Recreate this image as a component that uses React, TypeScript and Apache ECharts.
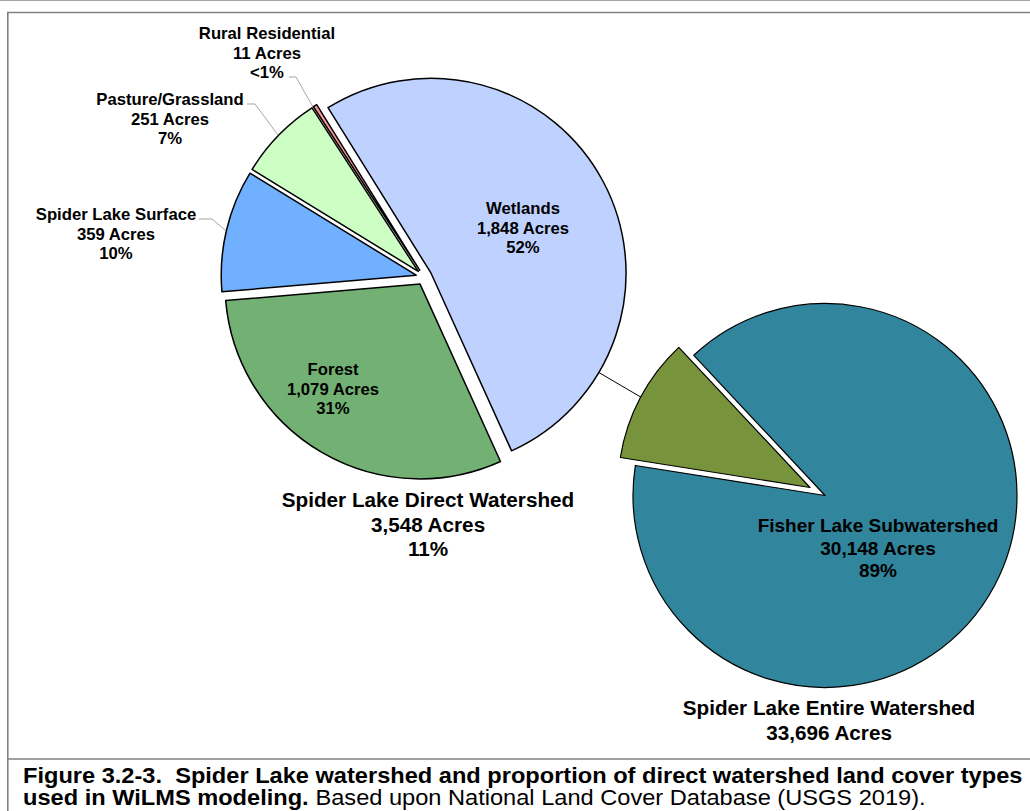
import React, { useEffect, useRef } from "react";
import * as echarts from "echarts";

// ---------- data ----------
const directCategories = ["Wetlands", "Forest", "Spider Lake Surface", "Pasture/Grassland", "Rural Residential"];
const directAcres = [1848, 1079, 359, 251, 11];
const directPercentLabels = ["52%", "31%", "10%", "7%", "<1%"];

const entireCategories = ["Fisher Lake Subwatershed", "Spider Lake Direct Watershed"];
const entireAcres = [30148, 3548];
const entirePercentLabels = ["89%", "11%"];
const entireTitle = "Spider Lake Entire Watershed";

const captionBold1 = "Figure 3.2-3.  Spider Lake watershed and proportion of direct watershed land cover types";
const captionBold2 = "used in WiLMS modeling.";
const captionNormal2 = "Based upon National Land Cover Database (USGS 2019).";

// ---------- styles / positions ----------
const FONT = '"Liberation Sans", Arial, sans-serif';
const directColors = ["#BFD2FF", "#72B173", "#70B0FF", "#CDFFC4", "#FF9A9A"];
const entireColors = ["#31859C", "#77933C"];
const directLabelPos: number[][] = [[523, 228], [333, 389], [116, 234], [170, 119], [267, 53]];
const directLeader: (number[][] | null)[] = [
  null,
  null,
  [[225, 230], [212, 219], [199, 219]],
  [[278, 135], [255, 104], [247, 104]],
  [[313, 107], [296, 77], [289, 77]],
];
const entireLabelPos: number[][] = [[878, 548], [428, 524]];
const entireLeader: (number[][] | null)[] = [null, [[656, 406], [627, 389], [598, 372]]];

const fmt = (v: number) => v.toLocaleString("en-US");

interface PieCfg {
  categories: string[];
  values: number[];
  percents: string[];
  colors: string[];
  center: number[];
  radius: number;
  startAngle: number;
  explode: number;
  borderWidth: number;
  labelPos: number[][];
  leader: (number[][] | null)[];
  leaderColor: string;
  labelFont: (i: number) => { fontSize: number; lineHeight: number };
}

// one pie series per slice, every series laid out by ECharts from the full data;
// only slice i is visible, its series centre shifted along the slice's mid angle (explosion)
function explodedPie(cfg: PieCfg): any[] {
  const total = cfg.values.reduce((a, b) => a + b, 0);
  let cum = 0;
  return cfg.values.map((v, i) => {
    const mid = cfg.startAngle - ((cum + v / 2) / total) * 360;
    cum += v;
    const rad = (mid * Math.PI) / 180;
    const center = [cfg.center[0] + Math.cos(rad) * cfg.explode, cfg.center[1] - Math.sin(rad) * cfg.explode];
    const f = cfg.labelFont(i);
    return {
      type: "pie",
      silent: true,
      center,
      radius: cfg.radius,
      startAngle: cfg.startAngle,
      clockwise: true,
      avoidLabelOverlap: false,
      emphasis: { disabled: true },
      labelLayout: (p: any) => {
        const pos = cfg.labelPos[p.dataIndex];
        const out: any = { x: pos[0], y: pos[1], align: "center", verticalAlign: "middle" };
        const l = cfg.leader[p.dataIndex];
        if (l) out.labelLinePoints = l;
        return out;
      },
      data: cfg.categories.map((name, j) =>
        j === i
          ? {
              name,
              value: cfg.values[j],
              itemStyle: { color: cfg.colors[j], borderColor: "#000", borderWidth: cfg.borderWidth },
              label: {
                show: true,
                position: cfg.leader[j] ? "outside" : "inside",
                fontFamily: FONT,
                fontWeight: "bold",
                fontSize: f.fontSize,
                lineHeight: f.lineHeight,
                color: "#000",
                align: "center",
                formatter: `${name}\n${fmt(cfg.values[j])} Acres\n${cfg.percents[j]}`,
              },
              labelLine: {
                show: cfg.leader[j] != null,
                length: 10,
                length2: 10,
                lineStyle: { color: cfg.leaderColor, width: 1 },
              },
            }
          : {
              name,
              value: cfg.values[j],
              itemStyle: { color: "rgba(0,0,0,0)", borderWidth: 0 },
              label: { show: false },
              labelLine: { show: false },
            }
      ),
    };
  });
}

export default function App() {
  const ref = useRef<HTMLDivElement>(null);
  useEffect(() => {
    if (!ref.current) return;
    const chart = echarts.init(ref.current, undefined, { renderer: "svg" });
    const entireTotal = entireAcres.reduce((a, b) => a + b, 0);

    const directSeries = explodedPie({
      categories: directCategories,
      values: directAcres,
      percents: directPercentLabels,
      colors: directColors,
      center: [424, 277],
      radius: 195,
      startAngle: 121.9,
      explode: 8,
      borderWidth: 1.5,
      labelPos: directLabelPos,
      leader: directLeader,
      leaderColor: "#a6a6a6",
      labelFont: () => ({ fontSize: 16.7, lineHeight: 19.8 }),
    });
    const entireSeries = explodedPie({
      categories: entireCategories,
      values: entireAcres,
      percents: entirePercentLabels,
      colors: entireColors,
      center: [817.5, 491.5],
      radius: 192,
      startAngle: 133.1,
      explode: 8.5,
      borderWidth: 1.2,
      labelPos: entireLabelPos,
      leader: entireLeader,
      leaderColor: "#000",
      labelFont: (i) => (i === 0 ? { fontSize: 19, lineHeight: 22.8 } : { fontSize: 20.7, lineHeight: 24.6 }),
    });

    const option: any = {
      animation: false,
      backgroundColor: "#ffffff",
      textStyle: { fontFamily: FONT },
      series: [...directSeries, ...entireSeries],
      graphic: [
        { type: "line", silent: true, shape: { x1: 0, y1: 0.5, x2: 1030, y2: 0.5 }, style: { stroke: "#a6a6a6", lineWidth: 1 } },
        { type: "line", silent: true, shape: { x1: 7, y1: 12.5, x2: 1030, y2: 12.5 }, style: { stroke: "#808080", lineWidth: 1.6 } },
        { type: "line", silent: true, shape: { x1: 7.8, y1: 12, x2: 7.8, y2: 811 }, style: { stroke: "#808080", lineWidth: 1.6 } },
        { type: "line", silent: true, shape: { x1: 8, y1: 759, x2: 1030, y2: 759 }, style: { stroke: "#808080", lineWidth: 1.5 } },
        {
          type: "text",
          silent: true,
          x: 829,
          y: 720,
          style: {
            text: `${entireTitle}\n${fmt(entireTotal)} Acres`,
            fontFamily: FONT,
            fontSize: 20.7,
            fontWeight: "bold",
            lineHeight: 25,
            fill: "#000",
            align: "center",
            verticalAlign: "middle",
          },
        },
        {
          type: "text",
          silent: true,
          x: 23,
          y: 775,
          scaleX: 1.05,
          style: {
            text: captionBold1,
            fontFamily: FONT,
            fontSize: 22.5,
            fontWeight: "bold",
            fill: "#000",
            align: "left",
            verticalAlign: "middle",
          },
        },
        {
          type: "text",
          silent: true,
          x: 23,
          y: 797,
          scaleX: 1.05,
          style: {
            text: `{b|${captionBold2}} {n|${captionNormal2}}`,
            fontFamily: FONT,
            fontSize: 22.5,
            fill: "#000",
            align: "left",
            verticalAlign: "middle",
            rich: {
              b: { fontFamily: FONT, fontSize: 22.5, fontWeight: "bold", fill: "#000" },
              n: { fontFamily: FONT, fontSize: 22.5, fontWeight: "normal", fill: "#000" },
            },
          },
        },
      ],
    };
    chart.setOption(option);
    return () => chart.dispose();
  }, []);

  return (
    <div
      ref={ref}
      style={{ position: "fixed", left: 0, top: 0, width: 1030, height: 811, background: "#fff" }}
    />
  );
}
